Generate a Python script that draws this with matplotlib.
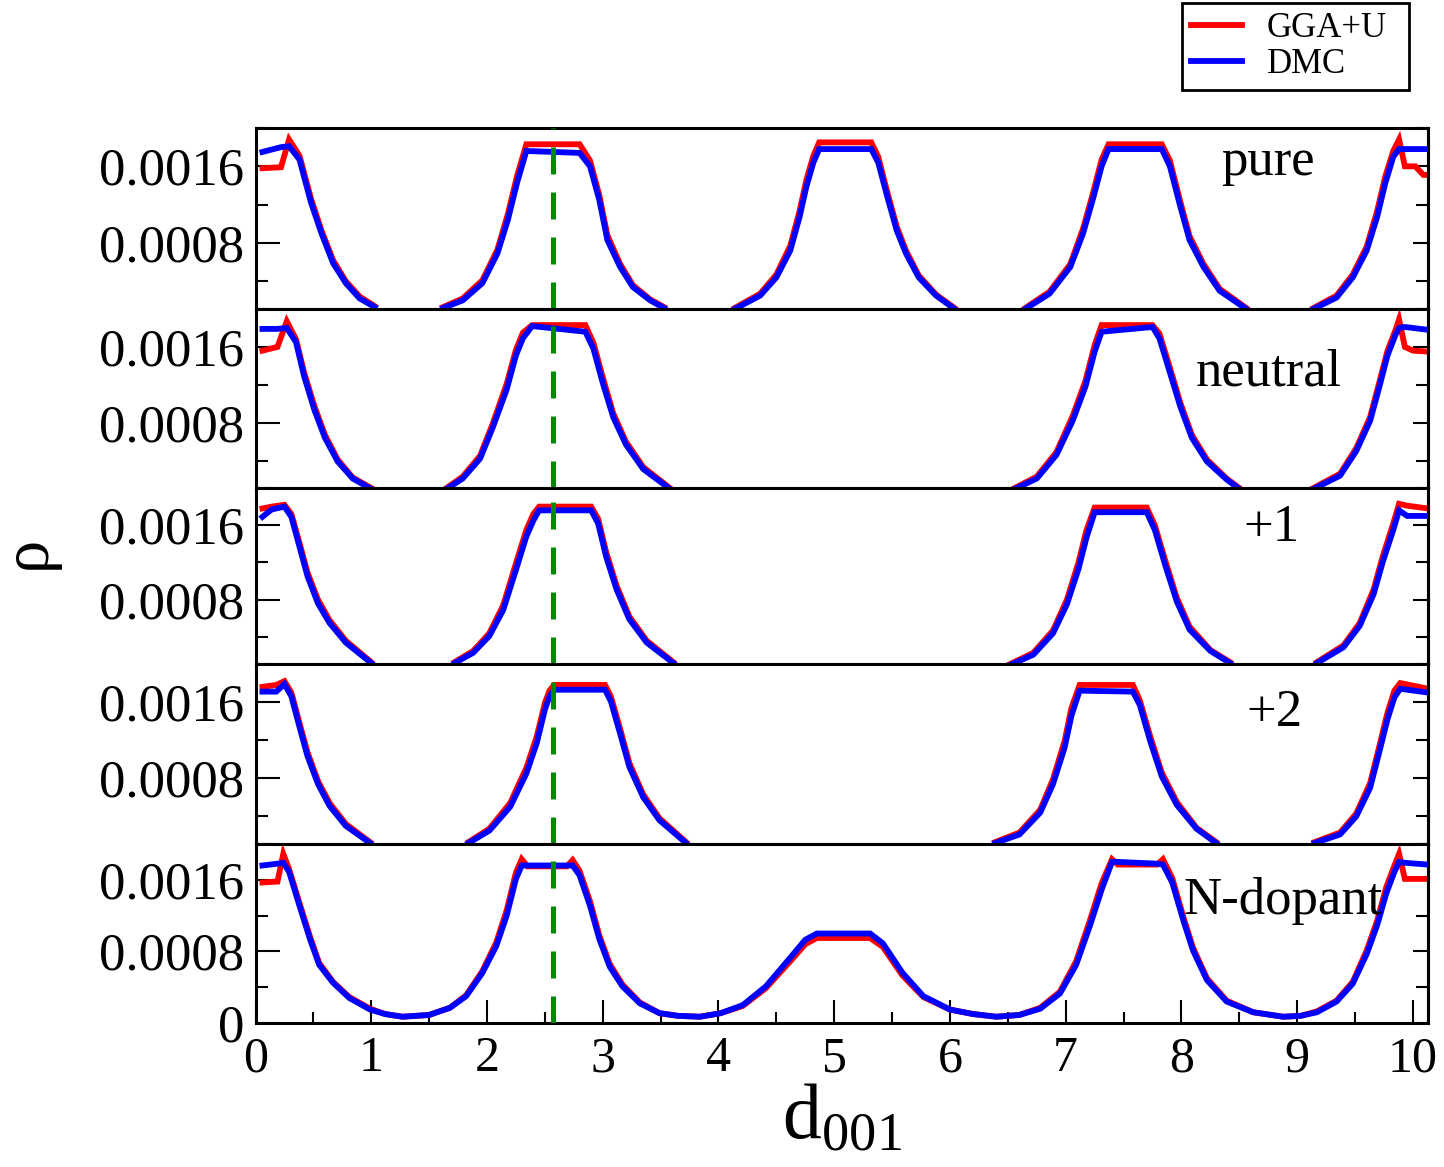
import matplotlib
matplotlib.use('Agg')
import matplotlib.pyplot as plt
from matplotlib.ticker import MultipleLocator, FormatStrFormatter
import numpy as np

plt.rcParams['font.family'] = ['Liberation Serif', 'DejaVu Serif']
plt.rcParams['mathtext.fontset'] = 'custom'
plt.rcParams['mathtext.rm'] = 'Liberation Serif'

nan = np.nan  # tramos fuera del rango visible (por debajo del eje)

# ---- datos (rho frente a d_001) ----
x_pure = [0.06, 0.22, 0.29, 0.38, 0.48, 0.57, 0.67, 0.78, 0.90, 1.03, 1.30,
          1.62, 1.79, 1.96, 2.09, 2.18, 2.26, 2.34, 2.80, 2.89, 2.97, 3.04, 3.15, 3.26, 3.41, 3.53, 3.85,
          4.14, 4.36, 4.50, 4.62, 4.70, 4.76, 4.82, 4.87, 5.32, 5.38, 5.45, 5.54, 5.62, 5.73, 5.88, 6.04, 6.35,
          6.65, 6.86, 7.04, 7.15, 7.24, 7.31, 7.37, 7.83, 7.90, 7.99, 8.07, 8.19, 8.33, 8.56, 8.85,
          9.14, 9.34, 9.48, 9.60, 9.69, 9.76, 9.83, 9.88, 9.93, 10.02, 10.09, 10.13]
dmc_pure = [0.00175, 0.00180, 0.00181, 0.00167, 0.00122, 0.00090, 0.00059, 0.00038, 0.00022, 0.00013, nan,
            0.00012, 0.00020, 0.00038, 0.00069, 0.00104, 0.00143, 0.00176, 0.00174, 0.00160, 0.00125, 0.00083, 0.00055, 0.00034, 0.00020, 0.00012, nan,
            0.00011, 0.00025, 0.00044, 0.00072, 0.00107, 0.00139, 0.00164, 0.00178, 0.00178, 0.00164, 0.00132, 0.00093, 0.00069, 0.00044, 0.00025, 0.00011, nan,
            0.00011, 0.00027, 0.00055, 0.00090, 0.00128, 0.00160, 0.00178, 0.00178, 0.00160, 0.00118, 0.00083, 0.00055, 0.00030, 0.00011, nan,
            0.00011, 0.00023, 0.00044, 0.00072, 0.00107, 0.00142, 0.00170, 0.00178, 0.00178, 0.00178, 0.00178, 0.00178]
gga_pure = [0.00158, 0.00159, 0.00188, 0.00171, 0.00126, 0.00093, 0.00062, 0.00040, 0.00024, 0.00014, nan,
            0.00013, 0.00022, 0.00041, 0.00073, 0.00110, 0.00150, 0.00183, 0.00183, 0.00166, 0.00130, 0.00088, 0.00058, 0.00036, 0.00021, 0.00013, nan,
            0.00012, 0.00027, 0.00047, 0.00077, 0.00113, 0.00146, 0.00171, 0.00185, 0.00185, 0.00170, 0.00137, 0.00097, 0.00072, 0.00046, 0.00026, 0.00012, nan,
            0.00012, 0.00029, 0.00058, 0.00095, 0.00134, 0.00167, 0.00183, 0.00183, 0.00166, 0.00123, 0.00087, 0.00058, 0.00032, 0.00012, nan,
            0.00012, 0.00025, 0.00047, 0.00076, 0.00113, 0.00149, 0.00176, 0.00188, 0.00160, 0.00160, 0.00151, 0.00151]

x_neutral = [0.06, 0.19, 0.27, 0.35, 0.42, 0.51, 0.60, 0.71, 0.84, 1.00, 1.30,
             1.65, 1.79, 1.94, 2.05, 2.17, 2.25, 2.31, 2.39, 2.85, 2.92, 3.00, 3.09, 3.20, 3.35, 3.58, 5.00,
             6.56, 6.75, 6.92, 7.06, 7.17, 7.25, 7.31, 7.75, 7.81, 7.90, 7.99, 8.09, 8.22, 8.39, 8.50, 8.85,
             9.14, 9.37, 9.51, 9.63, 9.71, 9.78, 9.85, 9.88, 9.93, 10.00, 10.13]
dmc_neutral = [0.00179, 0.00179, 0.00180, 0.00165, 0.00129, 0.00093, 0.00064, 0.00039, 0.00021, 0.00010, nan,
               0.00010, 0.00021, 0.00042, 0.00075, 0.00115, 0.00151, 0.00169, 0.00182, 0.00176, 0.00158, 0.00122, 0.00086, 0.00057, 0.00031, 0.00010, nan,
               0.00010, 0.00021, 0.00046, 0.00082, 0.00118, 0.00155, 0.00176, 0.00181, 0.00169, 0.00133, 0.00097, 0.00064, 0.00039, 0.00020, 0.00010, nan,
               0.00010, 0.00024, 0.00050, 0.00082, 0.00118, 0.00151, 0.00173, 0.00180, 0.00181, 0.00180, 0.00178]
gga_neutral = [0.00156, 0.00160, 0.00187, 0.00168, 0.00133, 0.00097, 0.00067, 0.00041, 0.00022, 0.00011, nan,
               0.00011, 0.00023, 0.00045, 0.00079, 0.00121, 0.00157, 0.00175, 0.00183, 0.00183, 0.00164, 0.00128, 0.00090, 0.00060, 0.00033, 0.00011, nan,
               0.00011, 0.00023, 0.00049, 0.00087, 0.00124, 0.00162, 0.00183, 0.00183, 0.00174, 0.00138, 0.00101, 0.00067, 0.00041, 0.00021, 0.00011, nan,
               0.00011, 0.00026, 0.00053, 0.00086, 0.00123, 0.00156, 0.00178, 0.00189, 0.00160, 0.00156, 0.00155]

x_plus1 = [0.06, 0.14, 0.25, 0.31, 0.38, 0.45, 0.54, 0.64, 0.78, 1.00, 1.35,
           1.72, 1.88, 2.02, 2.14, 2.25, 2.34, 2.40, 2.45, 2.90, 2.96, 3.03, 3.12, 3.23, 3.38, 3.61, 5.00,
           6.52, 6.72, 6.89, 7.01, 7.11, 7.18, 7.25, 7.70, 7.77, 7.86, 7.96, 8.07, 8.25, 8.42, 8.80,
           9.17, 9.40, 9.54, 9.66, 9.74, 9.83, 9.88, 9.95, 10.13]
dmc_plus1 = [0.00169, 0.00177, 0.00180, 0.00169, 0.00137, 0.00105, 0.00076, 0.00055, 0.00034, 0.00012, nan,
             0.00012, 0.00023, 0.00041, 0.00069, 0.00112, 0.00148, 0.00165, 0.00176, 0.00176, 0.00162, 0.00126, 0.00091, 0.00059, 0.00034, 0.00012, nan,
             0.00010, 0.00021, 0.00044, 0.00075, 0.00113, 0.00147, 0.00174, 0.00174, 0.00155, 0.00117, 0.00078, 0.00048, 0.00025, 0.00012, nan,
             0.00012, 0.00029, 0.00052, 0.00086, 0.00121, 0.00155, 0.00176, 0.00170, 0.00170]
gga_plus1 = [0.00178, 0.00180, 0.00182, 0.00172, 0.00141, 0.00109, 0.00080, 0.00058, 0.00036, 0.00013, nan,
             0.00013, 0.00025, 0.00044, 0.00074, 0.00119, 0.00155, 0.00172, 0.00180, 0.00180, 0.00167, 0.00131, 0.00095, 0.00062, 0.00036, 0.00013, nan,
             0.00011, 0.00023, 0.00047, 0.00080, 0.00120, 0.00155, 0.00179, 0.00179, 0.00160, 0.00122, 0.00082, 0.00051, 0.00026, 0.00013, nan,
             0.00013, 0.00031, 0.00055, 0.00091, 0.00127, 0.00162, 0.00183, 0.00181, 0.00178]

x_plus2 = [0.06, 0.18, 0.25, 0.31, 0.38, 0.45, 0.54, 0.64, 0.78, 0.99, 1.40,
           1.84, 2.02, 2.20, 2.34, 2.43, 2.50, 2.54, 2.58, 3.02, 3.07, 3.15, 3.23, 3.35, 3.49, 3.72, 5.00,
           6.39, 6.60, 6.78, 6.89, 6.99, 7.05, 7.12, 7.58, 7.64, 7.73, 7.83, 7.96, 8.13, 8.30, 8.70,
           9.15, 9.37, 9.51, 9.63, 9.71, 9.78, 9.84, 9.89, 10.13]
dmc_plus2 = [0.00171, 0.00171, 0.00179, 0.00166, 0.00134, 0.00103, 0.00074, 0.00051, 0.00030, 0.00012, nan,
             0.00012, 0.00025, 0.00050, 0.00085, 0.00117, 0.00152, 0.00166, 0.00173, 0.00173, 0.00161, 0.00127, 0.00092, 0.00060, 0.00036, 0.00012, nan,
             0.00012, 0.00021, 0.00044, 0.00074, 0.00112, 0.00146, 0.00172, 0.00171, 0.00157, 0.00119, 0.00082, 0.00052, 0.00027, 0.00012, nan,
             0.00012, 0.00021, 0.00040, 0.00070, 0.00108, 0.00142, 0.00165, 0.00174, 0.00170]
gga_plus2 = [0.00176, 0.00178, 0.00182, 0.00170, 0.00138, 0.00107, 0.00077, 0.00054, 0.00032, 0.00013, nan,
             0.00013, 0.00027, 0.00054, 0.00091, 0.00124, 0.00159, 0.00172, 0.00178, 0.00178, 0.00166, 0.00132, 0.00096, 0.00063, 0.00038, 0.00013, nan,
             0.00013, 0.00023, 0.00047, 0.00079, 0.00119, 0.00154, 0.00178, 0.00178, 0.00162, 0.00124, 0.00086, 0.00055, 0.00028, 0.00013, nan,
             0.00013, 0.00023, 0.00043, 0.00075, 0.00114, 0.00149, 0.00172, 0.00180, 0.00174]

x_ndop = [0.06, 0.19, 0.24, 0.29, 0.38, 0.47, 0.55, 0.67, 0.81, 0.99, 1.12, 1.27,
          1.50, 1.68, 1.82, 1.96, 2.08, 2.17, 2.25, 2.30, 2.35, 2.69, 2.74, 2.80, 2.89, 2.97, 3.06, 3.17, 3.32, 3.49, 3.65, 3.84,
          4.02, 4.21, 4.41, 4.62, 4.75, 4.85, 5.31, 5.42, 5.59, 5.77, 6.00, 6.20, 6.40,
          6.60, 6.78, 6.95, 7.09, 7.21, 7.31, 7.40, 7.45, 7.79, 7.84, 7.92, 8.02, 8.10, 8.22, 8.39, 8.62, 8.88,
          9.03, 9.17, 9.34, 9.48, 9.60, 9.69, 9.77, 9.84, 9.88, 9.93, 10.13]
dmc_ndop = [0.00176, 0.00178, 0.00179, 0.00169, 0.00131, 0.00094, 0.00065, 0.00045, 0.00028, 0.00015, 0.00010, 0.00007,
            0.00009, 0.00017, 0.00030, 0.00056, 0.00086, 0.00120, 0.00161, 0.00176, 0.00176, 0.00176, 0.00176, 0.00165, 0.00131, 0.00094, 0.00063, 0.00041, 0.00022, 0.00011, 0.00008, 0.00007,
            0.00011, 0.00020, 0.00041, 0.00073, 0.00093, 0.00100, 0.00100, 0.00089, 0.00056, 0.00030, 0.00015, 0.00010, 0.00007,
            0.00009, 0.00016, 0.00033, 0.00065, 0.00109, 0.00149, 0.00180, 0.00180, 0.00178, 0.00177, 0.00157, 0.00113, 0.00081, 0.00048, 0.00024, 0.00012, 0.00007,
            0.00008, 0.00012, 0.00024, 0.00044, 0.00077, 0.00109, 0.00145, 0.00169, 0.00180, 0.00179, 0.00177]
gga_ndop = [0.00157, 0.00158, 0.00189, 0.00172, 0.00134, 0.00097, 0.00067, 0.00046, 0.00029, 0.00016, 0.00010, 0.00007,
            0.00009, 0.00017, 0.00031, 0.00058, 0.00090, 0.00126, 0.00168, 0.00183, 0.00175, 0.00175, 0.00182, 0.00170, 0.00136, 0.00098, 0.00066, 0.00043, 0.00023, 0.00011, 0.00008, 0.00007,
            0.00011, 0.00019, 0.00039, 0.00069, 0.00088, 0.00095, 0.00095, 0.00085, 0.00053, 0.00029, 0.00015, 0.00010, 0.00007,
            0.00009, 0.00017, 0.00035, 0.00069, 0.00115, 0.00156, 0.00183, 0.00177, 0.00177, 0.00183, 0.00162, 0.00117, 0.00084, 0.00050, 0.00025, 0.00012, 0.00007,
            0.00008, 0.00013, 0.00025, 0.00046, 0.00081, 0.00114, 0.00152, 0.00176, 0.00189, 0.00161, 0.00161]

labels = ['pure', 'neutral', '+1', '+2', 'N-dopant']
x_sets = [x_pure, x_neutral, x_plus1, x_plus2, x_ndop]
gga_sets = [gga_pure, gga_neutral, gga_plus1, gga_plus2, gga_ndop]
dmc_sets = [dmc_pure, dmc_neutral, dmc_plus1, dmc_plus2, dmc_ndop]
y_min = [0.00011, 0.00011, 0.00011, 0.00011, 0.0]
d_marker = 2.57  # linea vertical verde

# ---- geometria (pixeles de la figura original) ----
W, H = 1444, 1167
left_px, right_px = 255.5, 1428
panel_px = [(128, 309), (309, 488), (488, 664), (664, 844), (844, 1023)]
label_pos = [(0.8635, 0.740), (0.8644, 0.575), (0.8667, 0.700), (0.8687, 0.653), (0.8763, 0.609)]
green = '#008a00'

fig = plt.figure(figsize=(W / 100, H / 100), dpi=100)
for i, (top, bottom) in enumerate(panel_px):
    ax = fig.add_axes([left_px / W, 1 - bottom / H, (right_px - left_px) / W, (bottom - top) / H])

    l_gga, = ax.plot(x_sets[i], gga_sets[i], color='red', lw=4.2, solid_joinstyle='miter', zorder=2)
    l_dmc, = ax.plot(x_sets[i], dmc_sets[i], color='blue', lw=4.2, solid_joinstyle='miter', zorder=3)
    ax.axvline(d_marker, color=green, lw=3.6, dashes=(5.4, 3.6), zorder=4)

    ax.set_xlim(0, 10.13)
    ax.set_ylim(y_min[i], 0.002)

    for s in ax.spines.values():
        s.set_linewidth(2.2)

    # ticks eje y (izquierda con etiquetas)
    ax.yaxis.set_major_locator(MultipleLocator(0.0008))
    ax.yaxis.set_minor_locator(MultipleLocator(0.0004))
    ax.yaxis.set_major_formatter(FormatStrFormatter('%g'))
    ax.tick_params(axis='y', which='major', direction='in', length=17, width=1.5,
                   labelsize=38, pad=8, right=False)
    ax.tick_params(axis='y', which='minor', direction='in', length=8.6, width=1.5, right=False)

    # ticks de la derecha, mas cortos
    sec = ax.secondary_yaxis('right')
    sec.yaxis.set_major_locator(MultipleLocator(0.0008))
    sec.yaxis.set_minor_locator(MultipleLocator(0.0004))
    sec.tick_params(axis='y', which='major', direction='in', length=11, width=1.5, labelright=False)
    sec.tick_params(axis='y', which='minor', direction='in', length=8.6, width=1.5)
    sec.spines['right'].set_linewidth(2.2)

    if i < 4:
        ax.tick_params(axis='x', which='both', bottom=False, top=False, labelbottom=False)
    else:
        ax.xaxis.set_major_locator(MultipleLocator(1))
        ax.xaxis.set_minor_locator(MultipleLocator(0.5))
        ax.tick_params(axis='x', which='major', direction='in', length=16.5, width=1.5,
                       labelsize=36, pad=9, top=False)
        ax.tick_params(axis='x', which='minor', direction='in', length=8, width=1.5, top=False)
        ax.set_xlabel(r'$\mathrm{d}_{\mathrm{001}}$', fontsize=56, labelpad=1)

    ax.text(label_pos[i][0], label_pos[i][1], labels[i], transform=ax.transAxes,
            ha='center', va='baseline', fontsize=38)

fig.text(28 / W, 1 - 552 / H, 'ρ', rotation=90, ha='center', va='center', fontsize=48)

leg = fig.legend([l_gga, l_dmc], ['GGA+U', 'DMC'], loc='upper left',
                 bbox_to_anchor=(1182 / W, 1 - 90 / H, 227 / W, 87 / H), mode='expand',
                 fontsize=25, frameon=True, fancybox=False, edgecolor='black', framealpha=1,
                 handlelength=1.47, handletextpad=0.72, labelspacing=0.1, borderpad=0.25,
                 borderaxespad=0.0)
leg.get_frame().set_linewidth(2)

fig.savefig('out.png', dpi=100)
